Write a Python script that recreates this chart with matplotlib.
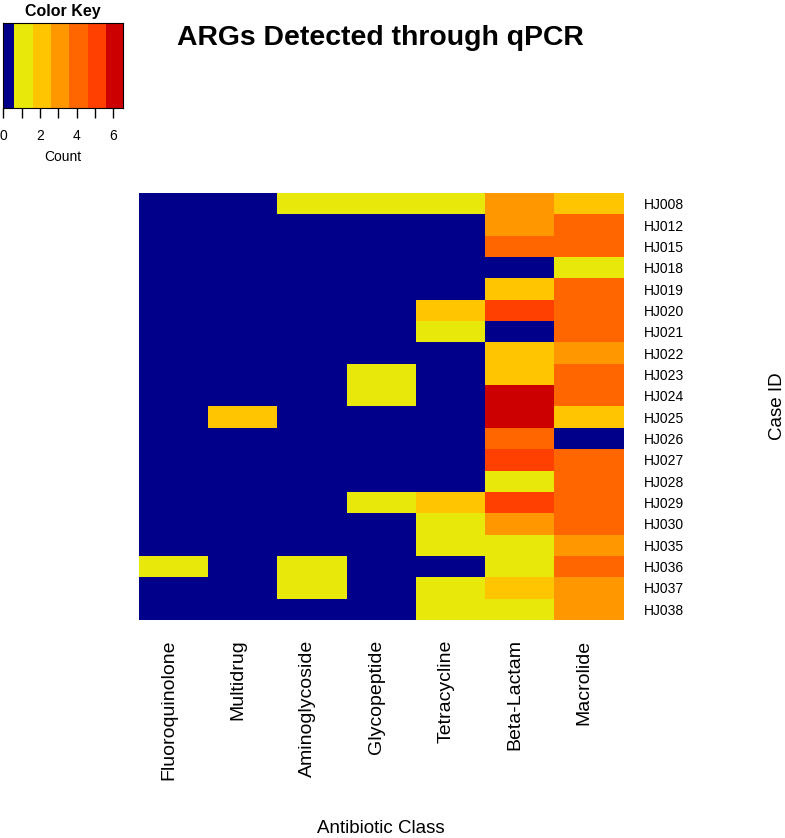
import numpy as np
import matplotlib
matplotlib.use("Agg")
import matplotlib.pyplot as plt
import matplotlib.transforms as mtransforms
from matplotlib.colors import ListedColormap, BoundaryNorm

plt.rcParams['font.family'] = ['Liberation Sans', 'DejaVu Sans']

# antibiotic classes (columns) and case ids (rows, top to bottom)
classes = ["Fluoroquinolone", "Multidrug", "Aminoglycoside", "Glycopeptide",
           "Tetracycline", "Beta-Lactam", "Macrolide"]
cases = ["HJ008", "HJ012", "HJ015", "HJ018", "HJ019", "HJ020", "HJ021",
         "HJ022", "HJ023", "HJ024", "HJ025", "HJ026", "HJ027", "HJ028",
         "HJ029", "HJ030", "HJ035", "HJ036", "HJ037", "HJ038"]

# counts per case, one list per antibiotic class
fluoroquinolone = [0, 0, 0, 0, 0, 0, 0, 0, 0, 0, 0, 0, 0, 0, 0, 0, 0, 1, 0, 0]
multidrug       = [0, 0, 0, 0, 0, 0, 0, 0, 0, 0, 2, 0, 0, 0, 0, 0, 0, 0, 0, 0]
aminoglycoside  = [1, 0, 0, 0, 0, 0, 0, 0, 0, 0, 0, 0, 0, 0, 0, 0, 0, 1, 1, 0]
glycopeptide    = [1, 0, 0, 0, 0, 0, 0, 0, 1, 1, 0, 0, 0, 0, 1, 0, 0, 0, 0, 0]
tetracycline    = [1, 0, 0, 0, 0, 2, 1, 0, 0, 0, 0, 0, 0, 0, 2, 1, 1, 0, 1, 1]
beta_lactam     = [3, 3, 4, 0, 2, 5, 0, 2, 2, 6, 6, 4, 5, 1, 5, 3, 1, 1, 2, 1]
macrolide       = [2, 4, 4, 1, 4, 4, 4, 3, 4, 4, 2, 0, 4, 4, 4, 4, 3, 4, 3, 3]

key_breaks = [0, 0.6, 1.6, 2.6, 3.6, 4.6, 5.6, 6.55]
key_colors = ["#00008B", "#E8E80A", "#FFC500", "#FF9700",
              "#FF6600", "#FF4000", "#CC0000"]

counts = np.array([fluoroquinolone, multidrug, aminoglycoside, glycopeptide,
                   tetracycline, beta_lactam, macrolide]).T

cmap = ListedColormap(key_colors)
norm = BoundaryNorm(key_breaks, cmap.N)

W, H = 785, 838
fig = plt.figure(figsize=(W / 100, H / 100), dpi=100)

def px_axes(x0, y0, x1, y1):
    return fig.add_axes([x0 / W, 1 - y1 / H, (x1 - x0) / W, (y1 - y0) / H])

# main heatmap
ax = px_axes(139, 193, 624, 620)
ax.imshow(counts, cmap=cmap, norm=norm, aspect='auto', interpolation='nearest')
ax.set_xticks(range(len(classes)))
ax.set_xticklabels(classes, rotation=90, fontsize=14, va='top')
ax.set_yticks(range(len(cases)))
ax.set_yticklabels(cases, fontsize=10)
ax.yaxis.tick_right()
ax.tick_params(axis='both', length=0)
ax.tick_params(axis='x', pad=14)
ax.tick_params(axis='y', pad=14)
# R puts the rotated labels a little left of the cell centres
shift = mtransforms.ScaledTranslation(-5 / 100, 0, fig.dpi_scale_trans)
for lab in ax.get_xticklabels():
    lab.set_transform(lab.get_transform() + shift)
for s in ax.spines.values():
    s.set_visible(False)

fig.text(381 / W, 1 - 828 / H, "Antibiotic Class", fontsize=13.5,
         ha='center', va='center')
fig.text(778 / W, 1 - 406 / H, "Case ID", fontsize=13.5, rotation=90,
         ha='center', va='center')
fig.text(380 / W, 1 - 38 / H, "ARGs Detected through qPCR", fontsize=20.4,
         fontweight='bold', ha='center', va='center')

# colour key
kax = px_axes(3.3, 22.7, 123.3, 108)
for i in range(len(key_colors)):
    kax.axvspan(key_breaks[i], key_breaks[i + 1], color=cmap(i), lw=0)
kax.set_xlim(0, key_breaks[-1])
kax.set_ylim(0, 1)
kax.set_yticks([])
kax.set_xticks(range(7))
kax.set_xticklabels(["0", "", "2", "", "4", "", "6"], fontsize=10)
kax.tick_params(axis='x', length=7, width=1, pad=8)
for s in kax.spines.values():
    s.set_linewidth(0.8)
kax.set_xlabel("Count", fontsize=10, labelpad=5)
kax.set_title("Color Key", fontsize=11.5, fontweight='bold', pad=5)

fig.savefig("out.png", dpi=100)
